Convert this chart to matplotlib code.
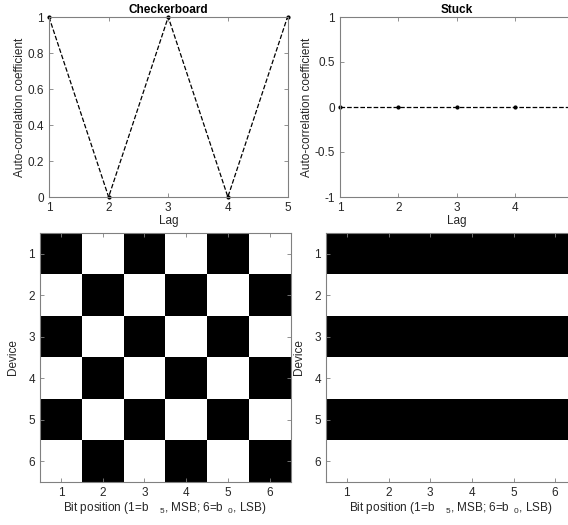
import numpy as np
import matplotlib
matplotlib.use("Agg")
import matplotlib.pyplot as plt

plt.rcParams['font.family'] = ['Liberation Sans', 'DejaVu Sans']
plt.rcParams['font.size'] = 8.5
plt.rcParams['mathtext.fontset'] = 'custom'
plt.rcParams['mathtext.rm'] = 'Liberation Sans'

# auto-correlation per lag
lags = [1, 2, 3, 4, 5]
acf_checker = [1, 0, 1, 0, 1]
acf_stuck = [0, 0, 0, 0, 0]

# bit patterns (1 = white, 0 = black), rows are devices, columns bit positions
bits = [1, 2, 3, 4, 5, 6]
devices = [1, 2, 3, 4, 5, 6]
pattern_checker = [
    [0, 1, 0, 1, 0, 1],
    [1, 0, 1, 0, 1, 0],
    [0, 1, 0, 1, 0, 1],
    [1, 0, 1, 0, 1, 0],
    [0, 1, 0, 1, 0, 1],
    [1, 0, 1, 0, 1, 0],
]
pattern_stuck = [
    [0, 0, 0, 0, 0, 0],
    [1, 1, 1, 1, 1, 1],
    [0, 0, 0, 0, 0, 0],
    [1, 1, 1, 1, 1, 1],
    [0, 0, 0, 0, 0, 0],
    [1, 1, 1, 1, 1, 1],
]

W, H = 568, 525
fig = plt.figure(figsize=(W / 100, H / 100), dpi=100)

def px_axes(x0, y0, x1, y1):
    return fig.add_axes([x0 / W, 1 - y1 / H, (x1 - x0) / W, (y1 - y0) / H])

def style(ax):
    for s in ax.spines.values():
        s.set_color('0.5')
        s.set_linewidth(0.8)
    ax.tick_params(direction='in', length=3, width=0.6, color='0.5',
                   labelcolor='0.15', top=True, right=True, pad=3.5)

bit_label = r'Bit position (1=b$\quad_{5}$, MSB; 6=b$\;\,_{0}$, LSB)'

# top row: auto-correlation
ax1 = px_axes(49, 17, 287.5, 197)
ax1.plot(lags, acf_checker, 'k--', lw=0.9, marker='.', ms=4, clip_on=False)
ax1.set_xlim(1, 5)
ax1.set_ylim(0, 1)
ax1.set_xticks(lags)
ax1.set_yticks([0, 0.2, 0.4, 0.6, 0.8, 1])
ax1.set_yticklabels(['0', '0.2', '0.4', '0.6', '0.8', '1'])
ax1.set_xlabel('Lag', labelpad=1, color='0.15')
ax1.set_ylabel('Auto-correlation coefficient', labelpad=1, color='0.15')
ax1.set_title('Checkerboard', fontweight='bold', pad=3, fontsize=8.5)
style(ax1)

ax2 = px_axes(340, 17, 573, 197)
ax2.plot(lags, acf_stuck, 'k--', lw=0.9, marker='.', ms=4, clip_on=False)
ax2.set_xlim(1, 5)
ax2.set_ylim(-1, 1)
ax2.set_xticks(lags)
ax2.set_xticklabels(['1', '2', '3', '4', ''])
ax2.set_yticks([-1, -0.5, 0, 0.5, 1])
ax2.set_yticklabels(['-1', '-0.5', '0', '0.5', '1'])
ax2.set_xlabel('Lag', labelpad=1, color='0.15')
ax2.set_ylabel('Auto-correlation coefficient', labelpad=1, color='0.15')
ax2.set_title('Stuck', fontweight='bold', pad=3, fontsize=8.5)
style(ax2)

# bottom row: bit maps
ax3 = px_axes(40, 233, 290.5, 482)
ax3.imshow(np.array(pattern_checker), cmap='gray', vmin=0, vmax=1,
           extent=[0.5, 6.5, 6.5, 0.5], aspect='auto', interpolation='nearest')
ax3.set_xticks(bits)
ax3.set_yticks(devices)
ax3.set_xlabel(bit_label, labelpad=1, color='0.15')
ax3.set_ylabel('Device', labelpad=7, color='0.15')
style(ax3)

ax4 = px_axes(326, 233, 576, 482)
ax4.imshow(np.array(pattern_stuck), cmap='gray', vmin=0, vmax=1,
           extent=[0.5, 6.5, 6.5, 0.5], aspect='auto', interpolation='nearest')
ax4.set_xticks(bits)
ax4.set_yticks(devices)
ax4.set_xlabel(bit_label, labelpad=1, color='0.15')
ax4.set_ylabel('Device', labelpad=7, color='0.15')
style(ax4)

fig.savefig('out.png', dpi=100)
